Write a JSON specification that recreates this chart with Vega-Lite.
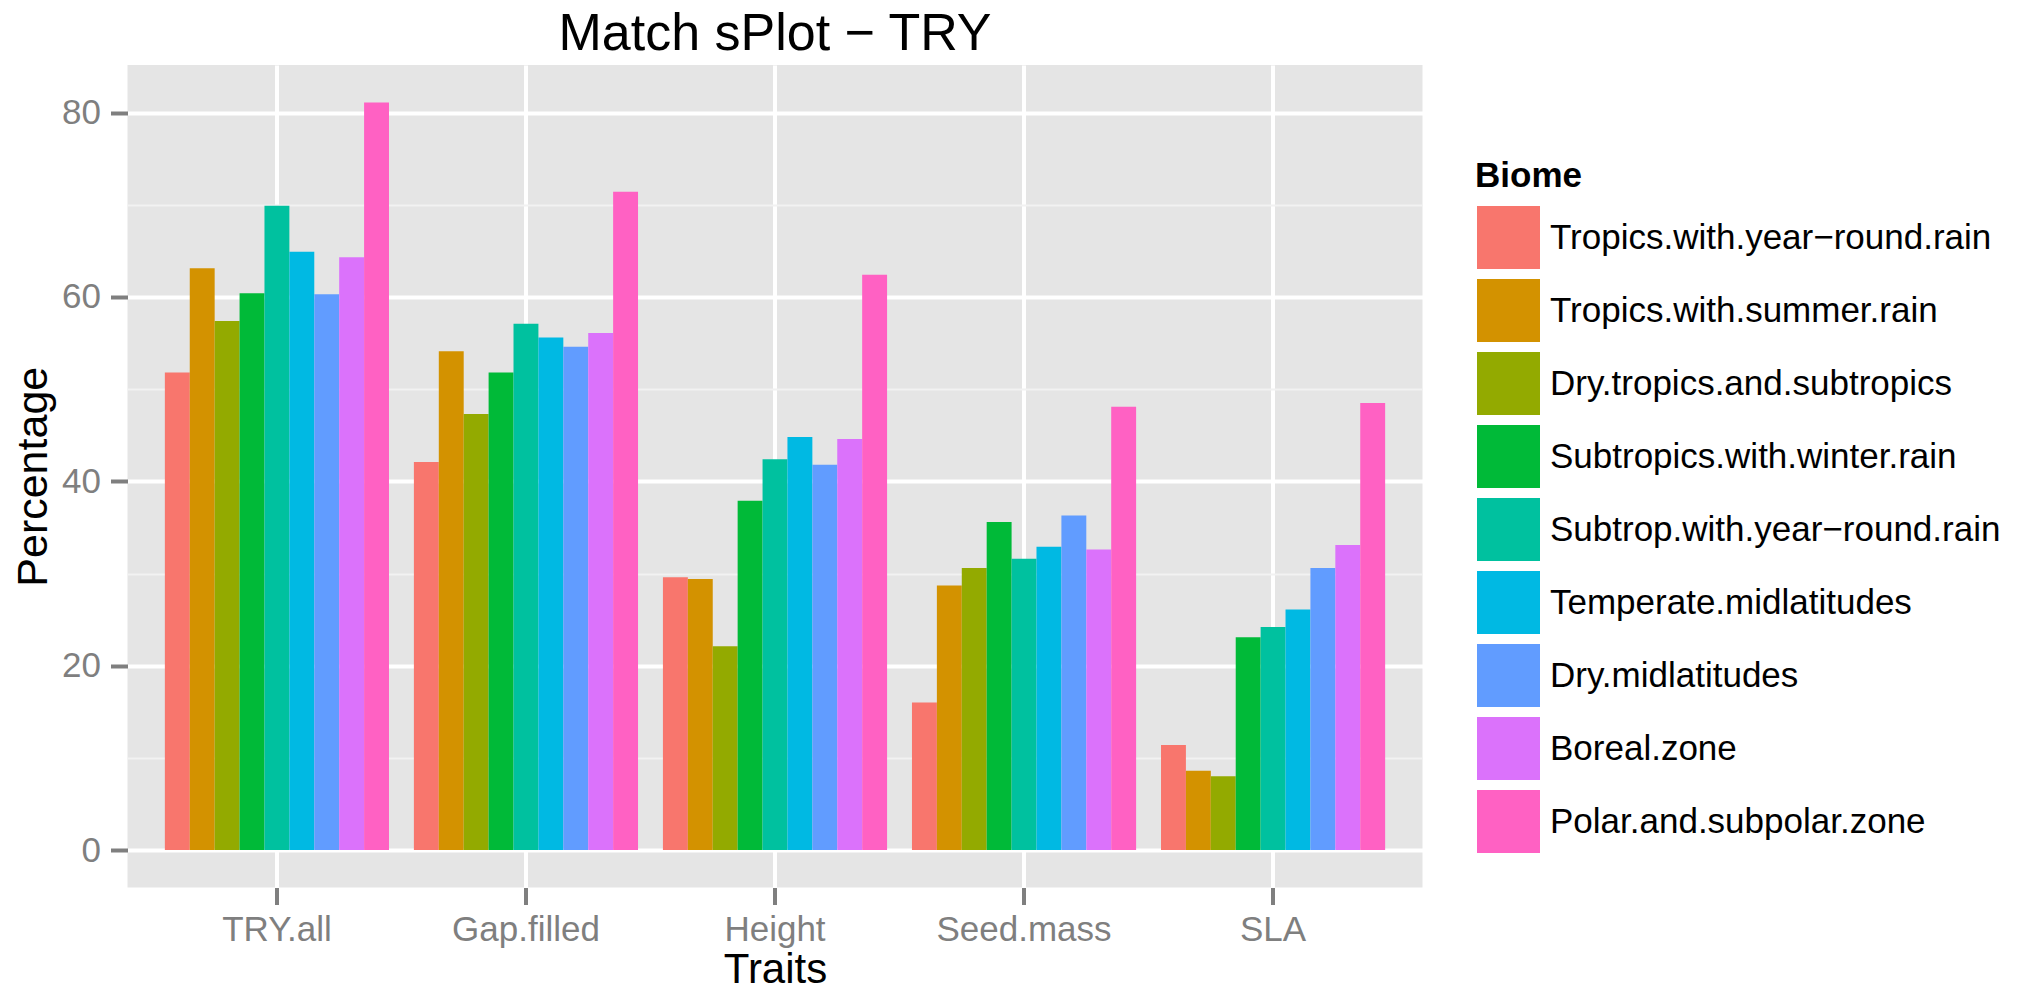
{
  "$schema": "https://vega.github.io/schema/vega-lite/v6.json",
  "autosize": {"type": "none"},
  "padding": {"left": 127.5, "top": 65, "right": 615.5, "bottom": 103.5},
  "width": 1295,
  "height": 822.5,
  "background": "white",
  "title": {
    "text": "Match sPlot − TRY",
    "font": "Liberation Sans",
    "fontSize": 52,
    "fontWeight": "normal",
    "color": "black",
    "anchor": "middle",
    "offset": 4
  },
  "data": {
    "values": [
      {"Trait": "TRY.all", "Biome": "Tropics.with.year−round.rain", "Percentage": 51.8},
      {"Trait": "TRY.all", "Biome": "Tropics.with.summer.rain", "Percentage": 63.1},
      {"Trait": "TRY.all", "Biome": "Dry.tropics.and.subtropics", "Percentage": 57.4},
      {"Trait": "TRY.all", "Biome": "Subtropics.with.winter.rain", "Percentage": 60.4},
      {"Trait": "TRY.all", "Biome": "Subtrop.with.year−round.rain", "Percentage": 69.9},
      {"Trait": "TRY.all", "Biome": "Temperate.midlatitudes", "Percentage": 64.9},
      {"Trait": "TRY.all", "Biome": "Dry.midlatitudes", "Percentage": 60.3},
      {"Trait": "TRY.all", "Biome": "Boreal.zone", "Percentage": 64.3},
      {"Trait": "TRY.all", "Biome": "Polar.and.subpolar.zone", "Percentage": 81.1},
      {"Trait": "Gap.filled", "Biome": "Tropics.with.year−round.rain", "Percentage": 42.1},
      {"Trait": "Gap.filled", "Biome": "Tropics.with.summer.rain", "Percentage": 54.1},
      {"Trait": "Gap.filled", "Biome": "Dry.tropics.and.subtropics", "Percentage": 47.3},
      {"Trait": "Gap.filled", "Biome": "Subtropics.with.winter.rain", "Percentage": 51.8},
      {"Trait": "Gap.filled", "Biome": "Subtrop.with.year−round.rain", "Percentage": 57.1},
      {"Trait": "Gap.filled", "Biome": "Temperate.midlatitudes", "Percentage": 55.6},
      {"Trait": "Gap.filled", "Biome": "Dry.midlatitudes", "Percentage": 54.6},
      {"Trait": "Gap.filled", "Biome": "Boreal.zone", "Percentage": 56.1},
      {"Trait": "Gap.filled", "Biome": "Polar.and.subpolar.zone", "Percentage": 71.4},
      {"Trait": "Height", "Biome": "Tropics.with.year−round.rain", "Percentage": 29.6},
      {"Trait": "Height", "Biome": "Tropics.with.summer.rain", "Percentage": 29.4},
      {"Trait": "Height", "Biome": "Dry.tropics.and.subtropics", "Percentage": 22.1},
      {"Trait": "Height", "Biome": "Subtropics.with.winter.rain", "Percentage": 37.9},
      {"Trait": "Height", "Biome": "Subtrop.with.year−round.rain", "Percentage": 42.4},
      {"Trait": "Height", "Biome": "Temperate.midlatitudes", "Percentage": 44.8},
      {"Trait": "Height", "Biome": "Dry.midlatitudes", "Percentage": 41.8},
      {"Trait": "Height", "Biome": "Boreal.zone", "Percentage": 44.6},
      {"Trait": "Height", "Biome": "Polar.and.subpolar.zone", "Percentage": 62.4},
      {"Trait": "Seed.mass", "Biome": "Tropics.with.year−round.rain", "Percentage": 16.0},
      {"Trait": "Seed.mass", "Biome": "Tropics.with.summer.rain", "Percentage": 28.7},
      {"Trait": "Seed.mass", "Biome": "Dry.tropics.and.subtropics", "Percentage": 30.6},
      {"Trait": "Seed.mass", "Biome": "Subtropics.with.winter.rain", "Percentage": 35.6},
      {"Trait": "Seed.mass", "Biome": "Subtrop.with.year−round.rain", "Percentage": 31.6},
      {"Trait": "Seed.mass", "Biome": "Temperate.midlatitudes", "Percentage": 32.9},
      {"Trait": "Seed.mass", "Biome": "Dry.midlatitudes", "Percentage": 36.3},
      {"Trait": "Seed.mass", "Biome": "Boreal.zone", "Percentage": 32.6},
      {"Trait": "Seed.mass", "Biome": "Polar.and.subpolar.zone", "Percentage": 48.1},
      {"Trait": "SLA", "Biome": "Tropics.with.year−round.rain", "Percentage": 11.4},
      {"Trait": "SLA", "Biome": "Tropics.with.summer.rain", "Percentage": 8.6},
      {"Trait": "SLA", "Biome": "Dry.tropics.and.subtropics", "Percentage": 8.0},
      {"Trait": "SLA", "Biome": "Subtropics.with.winter.rain", "Percentage": 23.1},
      {"Trait": "SLA", "Biome": "Subtrop.with.year−round.rain", "Percentage": 24.2},
      {"Trait": "SLA", "Biome": "Temperate.midlatitudes", "Percentage": 26.1},
      {"Trait": "SLA", "Biome": "Dry.midlatitudes", "Percentage": 30.6},
      {"Trait": "SLA", "Biome": "Boreal.zone", "Percentage": 33.1},
      {"Trait": "SLA", "Biome": "Polar.and.subpolar.zone", "Percentage": 48.5}
    ]
  },
  "mark": {"type": "bar"},
  "encoding": {
    "x": {
      "field": "Trait",
      "type": "nominal",
      "sort": ["TRY.all", "Gap.filled", "Height", "Seed.mass", "SLA"],
      "scale": {"paddingInner": 0.1, "paddingOuter": 0.15},
      "axis": {
        "title": "Traits",
        "labelAngle": 0,
        "bandPosition": 0.5,
        "grid": true,
        "gridColor": "white",
        "gridWidth": 4,
        "domain": false,
        "tickColor": "#7F7F7F",
        "tickWidth": 4,
        "tickSize": 17,
        "labelPadding": 8,
        "labelFont": "Liberation Sans",
        "labelFontSize": 35,
        "labelColor": "#7F7F7F",
        "titleFont": "Liberation Sans",
        "titleFontSize": 42,
        "titleFontWeight": "normal",
        "titleColor": "black",
        "titlePadding": 2
      }
    },
    "xOffset": {
      "field": "Biome",
      "type": "nominal",
      "sort": ["Tropics.with.year−round.rain", "Tropics.with.summer.rain", "Dry.tropics.and.subtropics", "Subtropics.with.winter.rain", "Subtrop.with.year−round.rain", "Temperate.midlatitudes", "Dry.midlatitudes", "Boreal.zone", "Polar.and.subpolar.zone"],
      "scale": {"paddingInner": 0, "paddingOuter": 0}
    },
    "y": {
      "field": "Percentage",
      "type": "quantitative",
      "scale": {"domain": [-4.055, 85.155], "nice": false, "zero": false},
      "axis": {
        "title": "Percentage",
        "values": [0, 10, 20, 30, 40, 50, 60, 70, 80],
        "labelExpr": "datum.value % 20 === 0 ? datum.label : ''",
        "grid": true,
        "gridColor": {"condition": {"test": "datum.value % 20 === 0", "value": "white"}, "value": "#F2F2F2"},
        "gridWidth": {"condition": {"test": "datum.value % 20 === 0", "value": 4}, "value": 2},
        "domain": false,
        "tickColor": "#7F7F7F",
        "tickOpacity": {"condition": {"test": "datum.value % 20 === 0", "value": 1}, "value": 0},
        "tickWidth": 4,
        "tickSize": 17,
        "labelPadding": 10,
        "labelFont": "Liberation Sans",
        "labelFontSize": 35,
        "labelColor": "#7F7F7F",
        "titleFont": "Liberation Sans",
        "titleFontSize": 43,
        "titleFontWeight": "normal",
        "titleColor": "black",
        "titlePadding": 6
      }
    },
    "color": {
      "field": "Biome",
      "type": "nominal",
      "scale": {
        "domain": ["Tropics.with.year−round.rain", "Tropics.with.summer.rain", "Dry.tropics.and.subtropics", "Subtropics.with.winter.rain", "Subtrop.with.year−round.rain", "Temperate.midlatitudes", "Dry.midlatitudes", "Boreal.zone", "Polar.and.subpolar.zone"],
        "range": ["#F8766D", "#D39200", "#93AA00", "#00BA38", "#00C19F", "#00B9E3", "#619CFF", "#DB72FB", "#FF61C3"]
      },
      "legend": {
        "title": "Biome",
        "orient": "none",
        "legendX": 1347.5,
        "legendY": 94,
        "padding": 0,
        "symbolType": "square",
        "symbolSize": 4225,
        "symbolStrokeColor": "white",
        "symbolStrokeWidth": 2,
        "symbolOpacity": 1,
        "rowPadding": 0,
        "labelOffset": 8,
        "labelFont": "Liberation Sans",
        "labelFontSize": 35,
        "labelColor": "black",
        "labelLimit": 600,
        "titleFont": "Liberation Sans",
        "titleFontSize": 35,
        "titleFontWeight": "bold",
        "titleColor": "black",
        "titlePadding": 10
      }
    }
  },
  "config": {
    "view": {"fill": "#E5E5E5", "stroke": null},
    "font": "Liberation Sans"
  }
}
